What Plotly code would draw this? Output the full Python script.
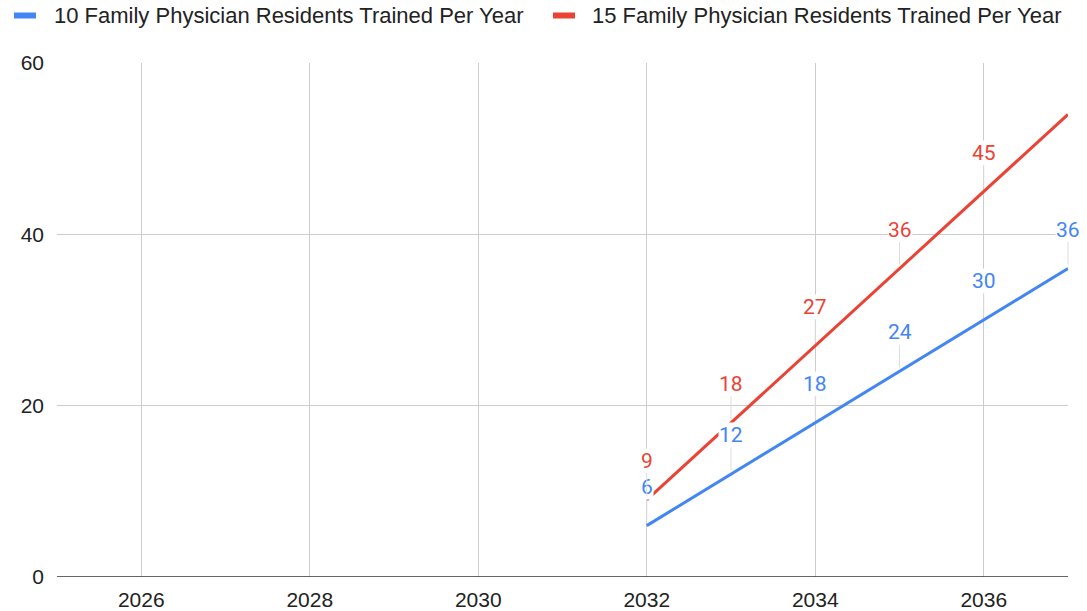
import plotly.graph_objects as go

years = [2032, 2033, 2034, 2035, 2036, 2037]
series_10 = [6, 12, 18, 24, 30, 36]
series_15 = [9, 18, 27, 36, 45, 54]
name_10 = "10 Family Physician Residents Trained Per Year"
name_15 = "15 Family Physician Residents Trained Per Year"
x_ticks = [2026, 2028, 2030, 2032, 2034, 2036]
y_ticks = [0, 20, 40, 60]

BLUE = "#4285F4"
RED = "#EA4335"

W, H = 1087, 611
ML, MR, MT, MB = 57, 19, 63, 34
PW, PH = W - ML - MR, H - MT - MB


def px_to_paper_x(px):
    return (px - ML) / PW


def px_to_paper_y(py):
    return (H - MB - py) / PH


fig = go.Figure()
fig.add_trace(go.Scatter(x=years, y=series_10, mode="lines", name=name_10,
                         line=dict(color=BLUE, width=3), showlegend=False))
fig.add_trace(go.Scatter(x=years, y=series_15, mode="lines", name=name_15,
                         line=dict(color=RED, width=3), showlegend=False))

annotations = []
for xs, ys, col in [(years, series_10, BLUE), (years, series_15, RED)]:
    for xv, yv in zip(xs, ys):
        if yv > 50:
            continue
        annotations.append(dict(
            x=xv, y=yv, xref="x", yref="y", text=str(yv),
            showarrow=True, arrowhead=0, arrowwidth=1, arrowcolor="#dddddd",
            ax=0, ay=-39, standoff=4,
            font=dict(family="Roboto, Arial, sans-serif", size=21, color=col),
            bgcolor="white", borderpad=0,
        ))

# custom legend (bar + text) at the top
shapes = []
legend_items = [(name_10, BLUE, 14, 53), (name_15, RED, 553, 591)]
for name, col, bar_x, text_x in legend_items:
    shapes.append(dict(type="rect", xref="paper", yref="paper",
                       x0=px_to_paper_x(bar_x), x1=px_to_paper_x(bar_x + 22),
                       y0=px_to_paper_y(18.5), y1=px_to_paper_y(12.5),
                       fillcolor=col, line=dict(width=0)))
    annotations.append(dict(
        x=px_to_paper_x(text_x - 1), y=px_to_paper_y(15), xref="paper", yref="paper",
        text=name, showarrow=False, xanchor="left", yanchor="middle",
        font=dict(family="Liberation Sans, Arial, sans-serif", size=22, color="#222"),
    ))

shapes.append(dict(type="line", xref="paper", yref="y", x0=0, x1=1, y0=0, y1=0,
                   line=dict(color="#333333", width=1.5), layer="above"))

fig.update_layout(
    width=W, height=H,
    margin=dict(l=ML, r=MR, t=MT, b=MB, autoexpand=False),
    paper_bgcolor="white", plot_bgcolor="white",
    font=dict(family="Liberation Sans, Arial, sans-serif", size=21, color="#222"),
    showlegend=False,
    annotations=annotations,
    shapes=shapes,
    xaxis=dict(range=[2025, 2037], tickvals=x_ticks, ticktext=[str(v) for v in x_ticks],
               showgrid=True, gridcolor="#cccccc", gridwidth=1, zeroline=False,
               showline=False, ticks="", tickfont=dict(size=21, color="#222"),
               ticklabelstandoff=8, automargin=False),
    yaxis=dict(range=[0, 60], tickvals=y_ticks, showgrid=True, gridcolor="#cccccc",
               gridwidth=1, zeroline=False, showline=False, ticks="",
               tickfont=dict(size=21, color="#222"), ticklabelstandoff=12,
               automargin=False),
)

fig.write_html("out.html", config={"displayModeBar": False},
               post_script="document.body.style.margin='0';")
